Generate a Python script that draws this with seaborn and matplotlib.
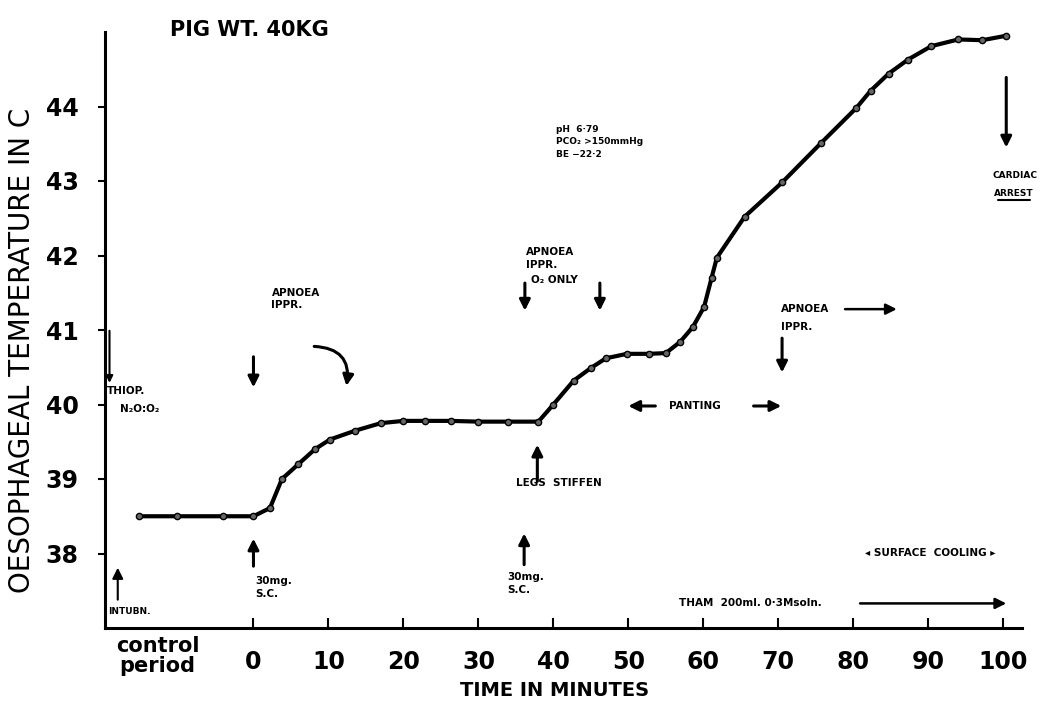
import matplotlib
matplotlib.use("Agg")
import matplotlib.pyplot as plt
import seaborn as sns
import pandas as pd

# ---- data ----
minutes = [-15.2, -10.2, -4.1, 0.0, 2.2, 3.8, 6.0, 8.2, 10.2, 13.6, 17.0, 20.0,
           22.9, 26.3, 30.0, 34.0, 38.0, 40.0, 42.7, 45.0, 47.0, 49.8, 52.7,
           55.0, 56.9, 58.6, 60.1, 61.1, 61.8, 65.5, 70.5, 75.7, 80.4, 82.3,
           84.7, 87.3, 90.4, 94.0, 97.2, 100.4]
temperature = [38.5, 38.5, 38.5, 38.5, 38.61, 39.0, 39.2, 39.4, 39.53, 39.65,
               39.75, 39.78, 39.78, 39.78, 39.77, 39.77, 39.77, 40.0, 40.32,
               40.49, 40.62, 40.68, 40.68, 40.69, 40.84, 41.04, 41.31, 41.7,
               41.97, 42.52, 42.98, 43.51, 43.98, 44.21, 44.44, 44.63, 44.81,
               44.9, 44.89, 44.95]
x_ticks = [0, 10, 20, 30, 40, 50, 60, 70, 80, 90, 100]
y_ticks = [38, 39, 40, 41, 42, 43, 44]

df = pd.DataFrame({"minutes": minutes, "temperature": temperature})

sns.set_style("ticks")
plt.rcParams["font.family"] = ["DejaVu Sans"]
plt.rcParams["text.color"] = "black"
plt.rcParams["axes.labelcolor"] = "black"
plt.rcParams["xtick.color"] = "black"
plt.rcParams["ytick.color"] = "black"

fig = plt.figure(figsize=(10.41, 7.09), dpi=100)
ax = fig.add_axes([105 / 1041, 1 - 628 / 709, (1022 - 105) / 1041, (628 - 32) / 709])

sns.lineplot(data=df, x="minutes", y="temperature", ax=ax, color="black",
             lw=3, marker="o", markersize=4.5, markerfacecolor="#666666",
             markeredgecolor="black", markeredgewidth=1, estimator=None)

ax.set_xlim(-19.8, 102.5)
ax.set_ylim(37.0, 45.0)
ax.set_xticks(x_ticks)
ax.set_yticks(y_ticks)
ax.set_xticklabels([str(v) for v in x_ticks], fontsize=17, fontweight="bold",
                   color="black")
ax.set_yticklabels([str(v) for v in y_ticks], fontsize=17, fontweight="bold",
                   color="black")
ax.tick_params(axis="x", direction="in", length=7, width=1.5, pad=16,
               colors="black")
ax.tick_params(axis="y", direction="out", length=5, width=1.5, pad=14,
               colors="black")
for s in ["top", "right"]:
    ax.spines[s].set_visible(False)
for s in ["left", "bottom"]:
    ax.spines[s].set_linewidth(2.2)
    ax.spines[s].set_color("black")
ax.set_xlabel("")
ax.set_ylabel("")

# axis labels and title
fig.text(555 / 1041, 1 - 690 / 709, "TIME IN MINUTES", ha="center", va="center",
         fontsize=14, fontweight="bold", color="black")
fig.text(22 / 1041, 1 - 350 / 709, "OESOPHAGEAL TEMPERATURE IN C", ha="center",
         va="center", rotation=90, fontsize=20, color="black")
fig.text(170 / 1041, 1 - 30 / 709, "PIG WT. 40KG", ha="left", va="center",
         fontsize=15, fontweight="bold", color="black")
ax.text(-12.8, 36.62, "control\nperiod", ha="center", va="center", fontsize=15,
        fontweight="bold", linespacing=1.0, clip_on=False, color="black")

ap = dict(arrowstyle="-|>", color="black", lw=2.2, mutation_scale=16,
          shrinkA=0, shrinkB=0)


def arrow(x0, y0, x1, y1, **kw):
    props = dict(ap)
    props.update(kw)
    ax.annotate("", xy=(x1, y1), xytext=(x0, y0), arrowprops=props,
                annotation_clip=False)


small = dict(fontsize=7.5, fontweight="bold", color="black")

# THIOP
arrow(-19.2, 40.99, -19.2, 40.29, lw=1.5, mutation_scale=10)
ax.text(-19.5, 40.18, "THIOP.", ha="left", va="center", **small)
ax.text(-17.8, 39.94, "N₂O:O₂", ha="left", va="center", **small)
# INTUBN
arrow(-18.1, 37.38, -18.1, 37.81, lw=1.5)
ax.text(-19.4, 37.22, "INTUBN.", ha="left", va="center", fontsize=6.5,
        fontweight="bold", color="black")
# APNOEA IPPR (left)
ax.text(2.4, 41.42, "APNOEA\nIPPR.", ha="left", va="center", linespacing=1.3,
        **small)
arrow(0, 40.64, 0, 40.23)
arrow(8.1, 40.78, 12.4, 40.25, connectionstyle="arc3,rad=-0.55")
# 30mg S.C. (left)
arrow(0, 37.83, 0, 38.2)
ax.text(0.3, 37.54, "30mg.\nS.C.", ha="left", va="center", linespacing=1.4,
        **small)
# APNOEA IPPR O2 ONLY
ax.text(36.3, 41.96, "APNOEA\nIPPR.", ha="left", va="center", linespacing=1.3,
        **small)
ax.text(37.0, 41.67, "O₂ ONLY", ha="left", va="center", **small)
arrow(36.2, 41.63, 36.2, 41.26)
arrow(46.2, 41.63, 46.2, 41.26)
# pH block
ax.text(40.3, 43.53, "pH  6·79\nPCO₂ >150mmHg\nBE −22·2", ha="left",
        va="center", linespacing=1.5, fontsize=6.5, fontweight="bold",
        color="black")
# LEGS STIFFEN
arrow(37.86, 38.97, 37.86, 39.46)
ax.text(40.7, 38.95, "LEGS  STIFFEN", ha="center", va="center", **small)
# 30mg S.C. (middle)
arrow(36.1, 37.85, 36.1, 38.27)
ax.text(33.8, 37.6, "30mg.\nS.C.", ha="left", va="center", linespacing=1.4,
        **small)
# PANTING
arrow(53.6, 39.98, 50.0, 39.98)
ax.text(58.9, 39.98, "PANTING", ha="center", va="center", **small)
arrow(66.7, 39.98, 70.4, 39.98)
# APNOEA IPPR (right)
ax.text(70.4, 41.28, "APNOEA", ha="left", va="center", **small)
ax.text(70.4, 41.04, "IPPR.", ha="left", va="center", **small)
arrow(78.9, 41.28, 85.8, 41.28, lw=1.8)
arrow(70.5, 40.89, 70.5, 40.43)
# CARDIAC ARREST
arrow(100.4, 44.39, 100.4, 43.45)
ax.text(101.6, 43.07, "CARDIAC", ha="center", va="center", fontsize=6.5,
        fontweight="bold", clip_on=False, color="black")
ax.text(101.4, 42.83, "ARREST", ha="center", va="center", fontsize=6.5,
        fontweight="bold", clip_on=False, color="black")
ax.plot([99.3, 103.6], [42.74, 42.74], color="black", lw=1.5, clip_on=False)
# SURFACE COOLING
ax.text(90.2, 38.0, "◂ SURFACE  COOLING ▸", ha="center", va="center", **small)
# THAM
ax.text(56.7, 37.33, "THAM  200ml. 0·3Msoln.", ha="left", va="center",
        **small)
arrow(80.9, 37.33, 100.4, 37.33, lw=1.8)

fig.savefig("out.png", dpi=100, facecolor="white")
